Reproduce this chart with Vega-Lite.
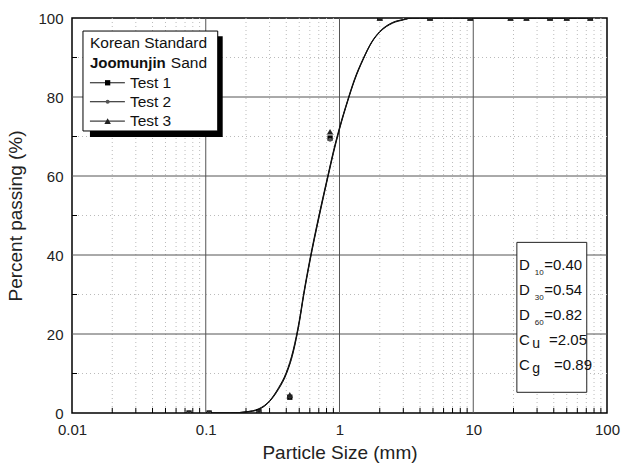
{
  "$schema": "https://vega.github.io/schema/vega-lite/v6.json",
  "width": 535,
  "height": 395,
  "autosize": {"type": "none"},
  "padding": {"left": 72, "top": 18, "right": 15, "bottom": 60},
  "background": "white",
  "config": {
    "font": "Liberation Sans",
    "view": {"stroke": "#000", "strokeWidth": 1.5},
    "axis": {"grid": false, "ticks": false, "domain": false, "labelFont": "Liberation Sans", "titleFont": "Liberation Sans", "labelColor": "#222", "titleColor": "#222", "titleFontWeight": "normal"}
  },
  "datasets": {
    "minorX": [
      {"v": 0.02}, {"v": 0.03}, {"v": 0.04}, {"v": 0.05}, {"v": 0.06}, {"v": 0.07}, {"v": 0.08}, {"v": 0.09},
      {"v": 0.2}, {"v": 0.3}, {"v": 0.4}, {"v": 0.5}, {"v": 0.6}, {"v": 0.7}, {"v": 0.8}, {"v": 0.9},
      {"v": 2}, {"v": 3}, {"v": 4}, {"v": 5}, {"v": 6}, {"v": 7}, {"v": 8}, {"v": 9},
      {"v": 20}, {"v": 30}, {"v": 40}, {"v": 50}, {"v": 60}, {"v": 70}, {"v": 80}, {"v": 90}
    ],
    "majorX": [{"v": 0.1}, {"v": 1}, {"v": 10}],
    "minorY": [{"v": 10}, {"v": 30}, {"v": 50}, {"v": 70}, {"v": 90}],
    "majorY": [{"v": 20}, {"v": 40}, {"v": 60}, {"v": 80}],
    "curves": [
      {"test": "Test 1", "size": 0.1, "pass": 0}, {"test": "Test 1", "size": 0.15, "pass": 0},
      {"test": "Test 1", "size": 0.2, "pass": 0.3}, {"test": "Test 1", "size": 0.25, "pass": 1.0},
      {"test": "Test 1", "size": 0.3, "pass": 3.0}, {"test": "Test 1", "size": 0.35, "pass": 6.2},
      {"test": "Test 1", "size": 0.4, "pass": 10}, {"test": "Test 1", "size": 0.45, "pass": 15.5},
      {"test": "Test 1", "size": 0.5, "pass": 23}, {"test": "Test 1", "size": 0.54, "pass": 30},
      {"test": "Test 1", "size": 0.6, "pass": 38.5}, {"test": "Test 1", "size": 0.7, "pass": 49.5},
      {"test": "Test 1", "size": 0.82, "pass": 60}, {"test": "Test 1", "size": 0.9, "pass": 66},
      {"test": "Test 1", "size": 1.0, "pass": 72}, {"test": "Test 1", "size": 1.15, "pass": 79},
      {"test": "Test 1", "size": 1.3, "pass": 84.5}, {"test": "Test 1", "size": 1.5, "pass": 89.5},
      {"test": "Test 1", "size": 1.75, "pass": 94}, {"test": "Test 1", "size": 2.0, "pass": 96.5},
      {"test": "Test 1", "size": 2.5, "pass": 98.8}, {"test": "Test 1", "size": 3.0, "pass": 99.6},
      {"test": "Test 1", "size": 3.5, "pass": 100}, {"test": "Test 1", "size": 75, "pass": 100},
      {"test": "Test 2", "size": 0.1, "pass": 0}, {"test": "Test 2", "size": 0.15, "pass": 0},
      {"test": "Test 2", "size": 0.2, "pass": 0.3}, {"test": "Test 2", "size": 0.25, "pass": 1.1},
      {"test": "Test 2", "size": 0.3, "pass": 3.1}, {"test": "Test 2", "size": 0.35, "pass": 6.4},
      {"test": "Test 2", "size": 0.4, "pass": 10.3}, {"test": "Test 2", "size": 0.45, "pass": 15.9},
      {"test": "Test 2", "size": 0.5, "pass": 23.4}, {"test": "Test 2", "size": 0.54, "pass": 30.4},
      {"test": "Test 2", "size": 0.6, "pass": 38.9}, {"test": "Test 2", "size": 0.7, "pass": 49.9},
      {"test": "Test 2", "size": 0.82, "pass": 60.3}, {"test": "Test 2", "size": 0.9, "pass": 66.3},
      {"test": "Test 2", "size": 1.0, "pass": 72.3}, {"test": "Test 2", "size": 1.15, "pass": 79.2},
      {"test": "Test 2", "size": 1.3, "pass": 84.7}, {"test": "Test 2", "size": 1.5, "pass": 89.7},
      {"test": "Test 2", "size": 1.75, "pass": 94.1}, {"test": "Test 2", "size": 2.0, "pass": 96.6},
      {"test": "Test 2", "size": 2.5, "pass": 98.9}, {"test": "Test 2", "size": 3.0, "pass": 99.6},
      {"test": "Test 2", "size": 3.5, "pass": 100}, {"test": "Test 2", "size": 75, "pass": 100},
      {"test": "Test 3", "size": 0.1, "pass": 0}, {"test": "Test 3", "size": 0.15, "pass": 0},
      {"test": "Test 3", "size": 0.2, "pass": 0.2}, {"test": "Test 3", "size": 0.25, "pass": 0.9},
      {"test": "Test 3", "size": 0.3, "pass": 2.9}, {"test": "Test 3", "size": 0.35, "pass": 6.0},
      {"test": "Test 3", "size": 0.4, "pass": 9.8}, {"test": "Test 3", "size": 0.45, "pass": 15.2},
      {"test": "Test 3", "size": 0.5, "pass": 22.7}, {"test": "Test 3", "size": 0.54, "pass": 29.7},
      {"test": "Test 3", "size": 0.6, "pass": 38.2}, {"test": "Test 3", "size": 0.7, "pass": 49.2},
      {"test": "Test 3", "size": 0.82, "pass": 59.7}, {"test": "Test 3", "size": 0.9, "pass": 65.7},
      {"test": "Test 3", "size": 1.0, "pass": 71.8}, {"test": "Test 3", "size": 1.15, "pass": 78.8},
      {"test": "Test 3", "size": 1.3, "pass": 84.3}, {"test": "Test 3", "size": 1.5, "pass": 89.4},
      {"test": "Test 3", "size": 1.75, "pass": 93.9}, {"test": "Test 3", "size": 2.0, "pass": 96.4},
      {"test": "Test 3", "size": 2.5, "pass": 98.7}, {"test": "Test 3", "size": 3.0, "pass": 99.5},
      {"test": "Test 3", "size": 3.5, "pass": 100}, {"test": "Test 3", "size": 75, "pass": 100}
    ],
    "sieves": [
      {"test": "Test 1", "size": 0.075, "pass": 0}, {"test": "Test 1", "size": 0.106, "pass": 0},
      {"test": "Test 1", "size": 0.25, "pass": 0.3}, {"test": "Test 1", "size": 0.425, "pass": 4.0},
      {"test": "Test 1", "size": 0.85, "pass": 69.6}, {"test": "Test 1", "size": 2.0, "pass": 100},
      {"test": "Test 1", "size": 4.75, "pass": 100}, {"test": "Test 1", "size": 9.5, "pass": 100},
      {"test": "Test 1", "size": 19, "pass": 100}, {"test": "Test 1", "size": 25, "pass": 100},
      {"test": "Test 1", "size": 37.5, "pass": 100}, {"test": "Test 1", "size": 50, "pass": 100},
      {"test": "Test 1", "size": 75, "pass": 100},
      {"test": "Test 2", "size": 0.075, "pass": 0}, {"test": "Test 2", "size": 0.106, "pass": 0},
      {"test": "Test 2", "size": 0.25, "pass": 0.3}, {"test": "Test 2", "size": 0.425, "pass": 4.2},
      {"test": "Test 2", "size": 0.85, "pass": 69.2}, {"test": "Test 2", "size": 2.0, "pass": 100},
      {"test": "Test 2", "size": 4.75, "pass": 100}, {"test": "Test 2", "size": 9.5, "pass": 100},
      {"test": "Test 2", "size": 19, "pass": 100}, {"test": "Test 2", "size": 25, "pass": 100},
      {"test": "Test 2", "size": 37.5, "pass": 100}, {"test": "Test 2", "size": 50, "pass": 100},
      {"test": "Test 2", "size": 75, "pass": 100},
      {"test": "Test 3", "size": 0.075, "pass": 0}, {"test": "Test 3", "size": 0.106, "pass": 0},
      {"test": "Test 3", "size": 0.25, "pass": 0.3}, {"test": "Test 3", "size": 0.425, "pass": 4.6},
      {"test": "Test 3", "size": 0.85, "pass": 71.2}, {"test": "Test 3", "size": 2.0, "pass": 100},
      {"test": "Test 3", "size": 4.75, "pass": 100}, {"test": "Test 3", "size": 9.5, "pass": 100},
      {"test": "Test 3", "size": 19, "pass": 100}, {"test": "Test 3", "size": 25, "pass": 100},
      {"test": "Test 3", "size": 37.5, "pass": 100}, {"test": "Test 3", "size": 50, "pass": 100},
      {"test": "Test 3", "size": 75, "pass": 100}
    ],
    "legendHead": [
      {"y": 93.7, "t": "Korean Standard", "bold": false},
      {"y": 88.7, "t": "Joomunjin", "bold": true}
    ],
    "legendItems": [
      {"test": "Test 1", "y": 83.6},
      {"test": "Test 2", "y": 78.8},
      {"test": "Test 3", "y": 73.9}
    ],
    "params": [
      {"sym": "D", "sub": "10", "val": "=0.40", "y": 37.5, "vx": 33.9, "small": true},
      {"sym": "D", "sub": "30", "val": "=0.54", "y": 31.1, "vx": 33.9, "small": true},
      {"sym": "D", "sub": "60", "val": "=0.82", "y": 24.8, "vx": 33.9, "small": true},
      {"sym": "C", "sub": "u", "val": "=2.05", "y": 18.5, "vx": 36.9, "small": false},
      {"sym": "C", "sub": "g", "val": "=0.89", "y": 12.2, "vx": 40.2, "small": false}
    ]
  },
  "layer": [
    {
      "data": {"name": "minorX"},
      "mark": {"type": "rule", "color": "#bbb", "strokeWidth": 1, "strokeDash": [1, 3]},
      "encoding": {"x": {"field": "v", "type": "quantitative", "scale": {"type": "log", "domain": [0.01, 100]}}}
    },
    {
      "data": {"name": "minorY"},
      "mark": {"type": "rule", "color": "#bbb", "strokeWidth": 1, "strokeDash": [1, 3]},
      "encoding": {"y": {"field": "v", "type": "quantitative", "scale": {"domain": [0, 100]}}}
    },
    {
      "data": {"name": "majorX"},
      "mark": {"type": "rule", "color": "#555", "strokeWidth": 1},
      "encoding": {"x": {"field": "v", "type": "quantitative"}}
    },
    {
      "data": {"name": "majorY"},
      "mark": {"type": "rule", "color": "#555", "strokeWidth": 1},
      "encoding": {"y": {"field": "v", "type": "quantitative"}}
    },
    {
      "data": {"name": "minorX"},
      "mark": {"type": "rule", "color": "#000", "strokeWidth": 1},
      "encoding": {
        "x": {"field": "v", "type": "quantitative"},
        "y": {"datum": 0},
        "y2": {"datum": 1.3}
      }
    },
    {
      "data": {"name": "minorY"},
      "mark": {"type": "rule", "color": "#000", "strokeWidth": 1},
      "encoding": {
        "y": {"field": "v", "type": "quantitative"},
        "x": {"datum": 0.01},
        "x2": {"datum": 0.0109}
      }
    },
    {
      "data": {"name": "curves"},
      "mark": {"type": "line", "color": "#111", "strokeWidth": 1, "interpolate": "monotone", "clip": true},
      "encoding": {
        "x": {
          "field": "size", "type": "quantitative",
          "scale": {"type": "log", "domain": [0.01, 100]},
          "axis": {"title": "Particle Size (mm)", "values": [0.01, 0.1, 1, 10, 100], "format": "~g", "labelFontSize": 15, "titleFontSize": 19, "labelPadding": 9, "titlePadding": 6, "labelFlush": false}
        },
        "y": {
          "field": "pass", "type": "quantitative",
          "scale": {"domain": [0, 100]},
          "axis": {"title": "Percent passing (%)", "values": [0, 20, 40, 60, 80, 100], "labelFontSize": 15, "titleFontSize": 19, "labelPadding": 9, "titlePadding": 12}
        },
        "detail": {"field": "test"}
      }
    },
    {
      "data": {"name": "sieves"},
      "mark": {"type": "point", "filled": true, "clip": true, "opacity": 1},
      "encoding": {
        "x": {"field": "size", "type": "quantitative"},
        "y": {"field": "pass", "type": "quantitative"},
        "shape": {"field": "test", "type": "nominal", "scale": {"domain": ["Test 1", "Test 2", "Test 3"], "range": ["square", "circle", "triangle-up"]}, "legend": null},
        "size": {"field": "test", "type": "nominal", "scale": {"type": "ordinal", "domain": ["Test 1", "Test 2", "Test 3"], "range": [28, 16, 42]}, "legend": null},
        "color": {"field": "test", "type": "nominal", "scale": {"domain": ["Test 1", "Test 2", "Test 3"], "range": ["#000", "#555", "#222"]}, "legend": null}
      }
    },
    {
      "data": {"values": [{}]},
      "mark": {"type": "rect", "fill": "#000"},
      "encoding": {"x": {"datum": 0.01362}, "x2": {"datum": 0.1339}, "y": {"datum": 69.9}, "y2": {"datum": 95.4}}
    },
    {
      "data": {"values": [{}]},
      "mark": {"type": "rect", "fill": "#fff", "stroke": "#000", "strokeWidth": 1},
      "encoding": {"x": {"datum": 0.01208}, "x2": {"datum": 0.1229}, "y": {"datum": 71.4}, "y2": {"datum": 96.7}}
    },
    {
      "data": {"name": "legendHead"},
      "transform": [{"filter": "!datum.bold"}],
      "mark": {"type": "text", "align": "left", "baseline": "middle", "fontSize": 15.5, "fill": "#111"},
      "encoding": {"x": {"datum": 0.01362}, "y": {"field": "y", "type": "quantitative"}, "text": {"field": "t"}}
    },
    {
      "data": {"name": "legendHead"},
      "transform": [{"filter": "datum.bold"}],
      "mark": {"type": "text", "align": "left", "baseline": "middle", "fontSize": 15, "fontWeight": "bold", "fill": "#111"},
      "encoding": {"x": {"datum": 0.01362}, "y": {"field": "y", "type": "quantitative"}, "text": {"field": "t"}}
    },
    {
      "data": {"name": "legendHead"},
      "transform": [{"filter": "datum.bold"}],
      "mark": {"type": "text", "align": "left", "baseline": "middle", "fontSize": 15.5, "fill": "#111", "text": "Sand"},
      "encoding": {"x": {"datum": 0.0548}, "y": {"field": "y", "type": "quantitative"}}
    },
    {
      "data": {"name": "legendItems"},
      "mark": {"type": "rule", "color": "#111", "strokeWidth": 1},
      "encoding": {"x": {"datum": 0.01362}, "x2": {"datum": 0.02486}, "y": {"field": "y", "type": "quantitative"}}
    },
    {
      "data": {"name": "legendItems"},
      "mark": {"type": "point", "filled": true, "opacity": 1},
      "encoding": {
        "x": {"datum": 0.01847},
        "y": {"field": "y", "type": "quantitative"},
        "shape": {"field": "test", "type": "nominal", "scale": {"domain": ["Test 1", "Test 2", "Test 3"], "range": ["square", "circle", "triangle-up"]}, "legend": null},
        "size": {"field": "test", "type": "nominal", "scale": {"type": "ordinal", "domain": ["Test 1", "Test 2", "Test 3"], "range": [28, 16, 42]}, "legend": null},
        "color": {"field": "test", "type": "nominal", "scale": {"domain": ["Test 1", "Test 2", "Test 3"], "range": ["#000", "#555", "#222"]}, "legend": null}
      }
    },
    {
      "data": {"name": "legendItems"},
      "mark": {"type": "text", "align": "left", "baseline": "middle", "fontSize": 15.5, "fill": "#111"},
      "encoding": {"x": {"datum": 0.02709}, "y": {"field": "y", "type": "quantitative"}, "text": {"field": "test"}}
    },
    {
      "data": {"values": [{}]},
      "mark": {"type": "rect", "fill": "#fff", "stroke": "#222", "strokeWidth": 1},
      "encoding": {"x": {"datum": 21.19}, "x2": {"datum": 70.58}, "y": {"datum": 5.24}, "y2": {"datum": 43.2}}
    },
    {
      "data": {"name": "params"},
      "mark": {"type": "text", "align": "left", "baseline": "middle", "fontSize": 15, "fill": "#111"},
      "encoding": {"x": {"datum": 22.0}, "y": {"field": "y", "type": "quantitative"}, "text": {"field": "sym"}}
    },
    {
      "data": {"name": "params"},
      "transform": [{"filter": "datum.small"}],
      "mark": {"type": "text", "align": "left", "baseline": "middle", "fontSize": 8, "dy": 8, "fill": "#222"},
      "encoding": {"x": {"datum": 28.8}, "y": {"field": "y", "type": "quantitative"}, "text": {"field": "sub"}}
    },
    {
      "data": {"name": "params"},
      "transform": [{"filter": "!datum.small"}],
      "mark": {"type": "text", "align": "left", "baseline": "middle", "fontSize": 14, "dy": 4, "fill": "#111"},
      "encoding": {"x": {"datum": 27.6}, "y": {"field": "y", "type": "quantitative"}, "text": {"field": "sub"}}
    },
    {
      "data": {"name": "params"},
      "mark": {"type": "text", "align": "left", "baseline": "middle", "fontSize": 15, "fill": "#111"},
      "encoding": {"x": {"field": "vx", "type": "quantitative"}, "y": {"field": "y", "type": "quantitative"}, "text": {"field": "val"}}
    }
  ]
}
